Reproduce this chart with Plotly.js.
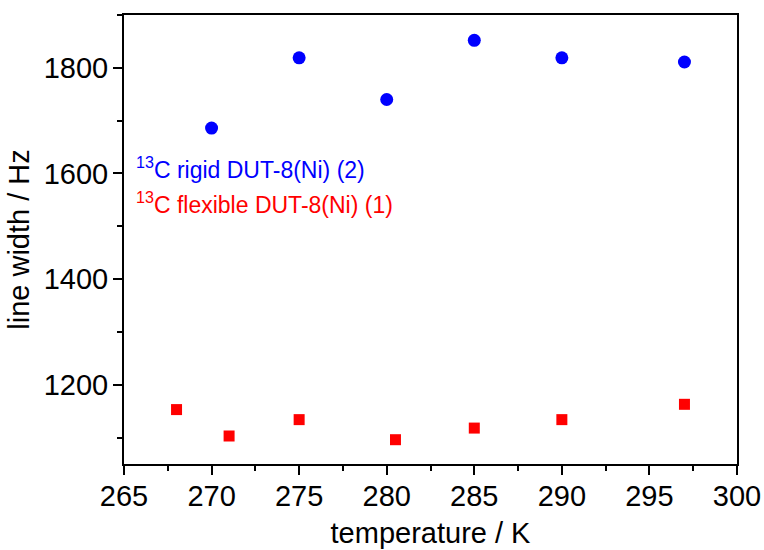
<!DOCTYPE html>
<html>
<head>
<meta charset="utf-8">
<script src="https://cdn.plot.ly/plotly-3.0.1.min.js"></script>
<style>html,body{margin:0;padding:0;background:#fff;}#chart{width:764px;height:550px;}</style>
</head>
<body>
<div id="chart"></div>
<script>
const rigidT = [270, 275, 280, 285, 290, 297];
const rigidW = [1686, 1819, 1740, 1852, 1819, 1811];
const flexT = [268, 271, 275, 280.5, 285, 290, 297];
const flexW = [1153, 1103, 1134, 1096, 1118, 1134, 1163];
const rigidLabel = "<sup>13</sup>C rigid DUT-8(Ni) (2)";
const flexLabel = "<sup>13</sup>C flexible DUT-8(Ni) (1)";
const xTitle = "temperature / K";
const yTitle = "line width / Hz";

const FONT = "Liberation Sans, Arial, sans-serif";

const traces = [
  {x: rigidT, y: rigidW, type: "scatter", mode: "markers", name: "rigid",
   marker: {symbol: "circle", size: 13, color: "#0000ff"}},
  {x: flexT, y: flexW, type: "scatter", mode: "markers", name: "flexible",
   marker: {symbol: "square", size: 11, color: "#ff0000"}}
];

const axisCommon = {
  showline: true, linecolor: "#000", linewidth: 2, mirror: true,
  ticks: "outside", ticklen: 9, tickwidth: 2, tickcolor: "#000",
  showgrid: false, zeroline: false,
  tickfont: {family: FONT, size: 29, color: "#000"}
};

const layout = {
  width: 764, height: 550,
  margin: {l: 124, r: 27, t: 15, b: 86},
  paper_bgcolor: "#fff", plot_bgcolor: "#fff",
  showlegend: false,
  font: {family: FONT, color: "#000"},
  xaxis: Object.assign({}, axisCommon, {
    range: [265, 300], tick0: 265, dtick: 5,
    ticklabelstandoff: -4,
    minor: {dtick: 2.5, ticks: "outside", ticklen: 5, tickwidth: 2, tickcolor: "#000"},
    title: {text: xTitle, font: {family: FONT, size: 29, color: "#000"}, standoff: 12}
  }),
  yaxis: Object.assign({}, axisCommon, {
    range: [1050, 1900], tick0: 1200, dtick: 200,
    ticklabelstandoff: -1,
    minor: {tick0: 1100, dtick: 100, ticks: "outside", ticklen: 5, tickwidth: 2, tickcolor: "#000"},
    title: {text: yTitle, font: {family: FONT, size: 29, color: "#000"}, standoff: 6}
  }),
  annotations: [
    {text: rigidLabel, xref: "paper", yref: "paper", x: 0.016, y: 0.66,
     xanchor: "left", yanchor: "middle", showarrow: false,
     font: {family: FONT, size: 23, color: "#0000ff"}},
    {text: flexLabel, xref: "paper", yref: "paper", x: 0.016, y: 0.582,
     xanchor: "left", yanchor: "middle", showarrow: false,
     font: {family: FONT, size: 23, color: "#ff0000"}}
  ]
};

Plotly.newPlot("chart", traces, layout, {staticPlot: true, displayModeBar: false});
</script>
</body>
</html>
